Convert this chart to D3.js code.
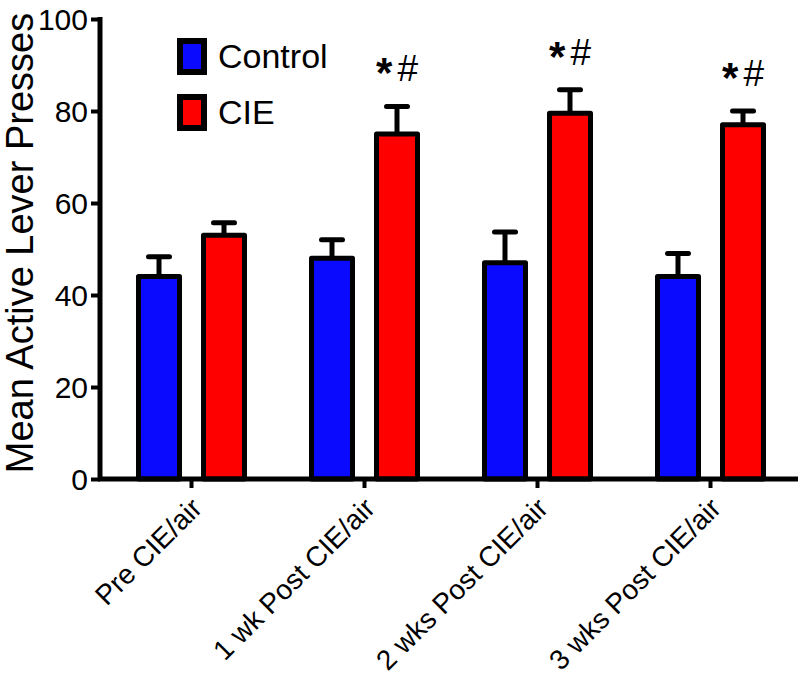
<!DOCTYPE html>
<html>
<head>
<meta charset="utf-8">
<script src="https://cdn.jsdelivr.net/npm/d3@7"></script>
<style>
	body { margin: 0; background: #fff; }
	svg { display: block; font-family: "Liberation Sans", Arial, sans-serif; }
</style>
</head>
<body>
<div id="chart"></div>
<script>
/*
	Grouped bar chart with upper SEM bars, Control vs CIE.
*/

var categories = ['Pre CIE/air', '1 wk Post CIE/air', '2 wks Post CIE/air', '3 wks Post CIE/air'];
var series = ['Control', 'CIE'];
var controlMeans = [44, 48, 47, 44];
var controlErr = [4.3, 4, 6.7, 5];
var cieMeans = [53, 75, 79.5, 77];
var cieErr = [2.7, 6, 5.1, 3];
var marks = [false, true, true, true];
var yTicks = [0, 20, 40, 60, 80, 100];

var colors = {
	'Control': '#0a0aff',
	'CIE': '#ff0000'
};

var width = 800;
var height = 677;

var svg = d3.select('#chart').append('svg')
	.attr('width', width)
	.attr('height', height);

var y = d3.scaleLinear()
	.domain([0, 100])
	.range([479, 19]);

var x0 = d3.scaleBand()
	.domain(categories)
	.range([105, 797]);

var half = x0.bandwidth() / 2;
var x1 = d3.scaleBand()
	.domain(series)
	.range([half - 65, half + 65]);

var rows = categories.map(function(c, i){
	return {
		cat: c,
		mark: marks[i],
		bars: [
			{ key: 'Control', value: controlMeans[i], err: controlErr[i] },
			{ key: 'CIE', value: cieMeans[i], err: cieErr[i] }
		]
	};
});

var barW = 41;

var groups = svg.selectAll('g.group')
	.data(rows)
	.enter().append('g')
	.attr('class', 'group')
	.attr('transform', function(d){ return 'translate(' + x0(d.cat) + ',0)'; });

var bar = groups.selectAll('g.bar')
	.data(function(d){ return d.bars; })
	.enter().append('g')
	.attr('class', 'bar')
	.attr('transform', function(d){ return 'translate(' + (x1(d.key) + x1.bandwidth() / 2) + ',0)'; });

// error bars (upper only)
bar.append('line')
	.attr('x1', 0).attr('x2', 0)
	.attr('y1', function(d){ return y(d.value); })
	.attr('y2', function(d){ return y(d.value + d.err); })
	.attr('stroke', '#000')
	.attr('stroke-width', 5);

bar.append('line')
	.attr('x1', -10.5).attr('x2', 10.5)
	.attr('y1', function(d){ return y(d.value + d.err); })
	.attr('y2', function(d){ return y(d.value + d.err); })
	.attr('stroke', '#000')
	.attr('stroke-width', 5)
	.attr('stroke-linecap', 'round');

bar.append('rect')
	.attr('x', -barW / 2)
	.attr('width', barW)
	.attr('y', function(d){ return y(d.value); })
	.attr('height', function(d){ return y(0) - y(d.value); })
	.attr('fill', function(d){ return colors[d.key]; })
	.attr('stroke', '#000')
	.attr('stroke-width', 5)
	.attr('stroke-linejoin', 'round');

// significance marks above CIE bars
var sig = groups.filter(function(d){ return d.mark; })
	.append('text')
	.attr('x', x1('CIE') + x1.bandwidth() / 2)
	.attr('y', function(d){ var b = d.bars[1]; return y(b.value + b.err) - 25; })
	.attr('text-anchor', 'middle')
	.attr('fill', '#000');

sig.append('tspan')
	.style('font-size', '42px')
	.style('font-weight', 'bold')
	.attr('dy', 6)
	.text('*');

sig.append('tspan')
	.style('font-size', '37px')
	.attr('dx', 5)
	.attr('dy', -6)
	.text('#');

// y axis
var yAxis = svg.append('g')
	.attr('transform', 'translate(100,0)')
	.call(d3.axisLeft(y).tickValues(yTicks).tickSize(9).tickPadding(3).tickSizeOuter(0));

yAxis.select('.domain')
	.attr('stroke-width', 5)
	.attr('d', 'M0,' + (y(100) - 2) + 'V' + (y(0) + 2));
yAxis.selectAll('.tick line').attr('stroke-width', 4);
yAxis.selectAll('.tick text')
	.style('font-size', '30px')
	.attr('fill', '#000')
	.attr('dy', '0.36em');

// x axis
var xAxis = svg.append('g')
	.attr('transform', 'translate(0,' + y(0) + ')')
	.call(d3.axisBottom(x0).tickSize(9).tickSizeOuter(0));

xAxis.select('.domain')
	.attr('stroke-width', 5)
	.attr('d', 'M98,0H798');
xAxis.selectAll('.tick line').attr('stroke-width', 4);
xAxis.selectAll('.tick text')
	.style('font-size', '28px')
	.attr('fill', '#000')
	.attr('text-anchor', 'end')
	.attr('x', 0)
	.attr('y', 0)
	.attr('dy', 0)
	.attr('transform', 'translate(12,31) rotate(-45)');

// y title
svg.append('text')
	.attr('transform', 'translate(33,' + 243 + ') rotate(-90)')
	.attr('text-anchor', 'middle')
	.style('font-size', '38px')
	.attr('fill', '#000')
	.text('Mean Active Lever Presses');

// legend
var legend = svg.append('g')
	.attr('transform', 'translate(180,41)');

var item = legend.selectAll('g')
	.data(series)
	.enter().append('g')
	.attr('transform', function(d, i){ return 'translate(0,' + (i * 56) + ')'; });

item.append('rect')
	.attr('width', 24)
	.attr('height', 31)
	.attr('fill', function(d){ return colors[d]; })
	.attr('stroke', '#000')
	.attr('stroke-width', 6);

item.append('text')
	.attr('x', 38)
	.attr('y', 27)
	.style('font-size', '34px')
	.attr('fill', '#000')
	.text(function(d){ return d; });
</script>
</body>
</html>
